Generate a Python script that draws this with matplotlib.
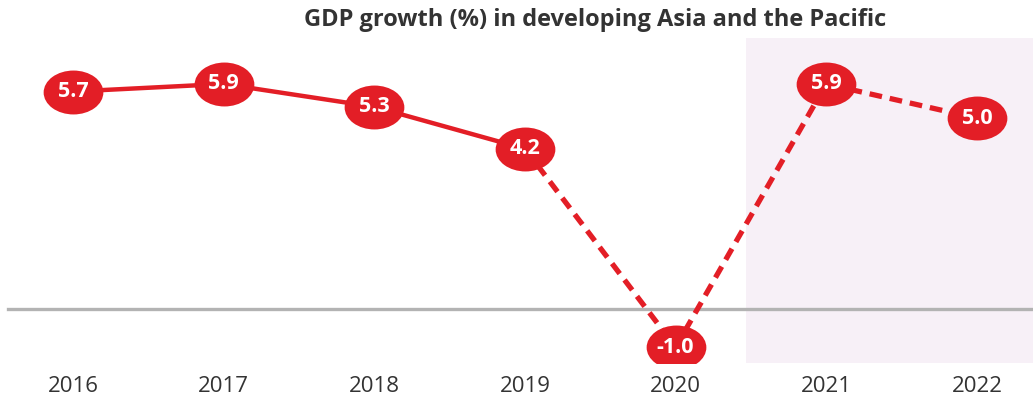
import numpy as np
import matplotlib
matplotlib.use("Agg")
import matplotlib.pyplot as plt
from matplotlib.path import Path
from matplotlib.markers import MarkerStyle

# ---------- Data ----------
years = [2016, 2017, 2018, 2019, 2020, 2021, 2022]
growth = [5.7, 5.9, 5.3, 4.2, -1.0, 5.9, 5.0]
labels = ["5.7", "5.9", "5.3", "4.2", "-1.0", "5.9", "5.0"]
n_actual = 4  # 2016-2019 solid, rest dashed (estimates / forecasts)
forecast_start = 2020.47

RED = "#E31E26"
SHADE = "#F7F0F7"
GREY = "#B3B3B3"
TEXT = "#333333"

TITLE_FONT = ["Open Sans", "DejaVu Sans"]
LABEL_FONT = ["Open Sans", "DejaVu Sans"]

# ellipse marker
circle = Path.unit_circle()
ellipse = Path(circle.vertices * np.array([1.36, 1.0]), circle.codes)

fig = plt.figure(figsize=(10.33, 3.96), dpi=100)
ax = fig.add_axes([0, 33 / 396, 1, 325 / 396])

ax.set_xlim(2015.516, 2022.372)
ax.set_ylim(-1.414, 7.104)

ax.axvspan(forecast_start, 2023, color=SHADE, zorder=0, lw=0)
ax.axhline(0, xmin=0.008, xmax=1, color=GREY, lw=2.4, zorder=1)

ax.plot(years[:n_actual], growth[:n_actual], color=RED, lw=3.2,
        solid_capstyle="butt", zorder=2)
ax.plot(years[n_actual - 1:], growth[n_actual - 1:], color=RED, lw=3.8,
        dashes=(2.4, 1.5), zorder=2)

ax.plot(years, growth, ls="none", marker=MarkerStyle(ellipse),
        markersize=43, color=RED, markeredgewidth=0, zorder=3)

for x, y, s in zip(years, growth, labels):
    ax.text(x, y, s, ha="center", va="center", color="white",
            fontsize=15.5, fontweight="bold", family=LABEL_FONT, zorder=4)

ax.set_xticks(years)
ax.set_xticklabels([str(y) for y in years], fontsize=16, color=TEXT,
                   family=LABEL_FONT)
ax.tick_params(axis="x", length=0, pad=9)
ax.set_yticks([])
for sp in ax.spines.values():
    sp.set_visible(False)

fig.text(0.576, 0.95, "GDP growth (%) in developing Asia and the Pacific",
         ha="center", va="center", fontsize=17, fontweight="bold",
         color=TEXT, family=TITLE_FONT)

fig.savefig("out.png", dpi=100)
